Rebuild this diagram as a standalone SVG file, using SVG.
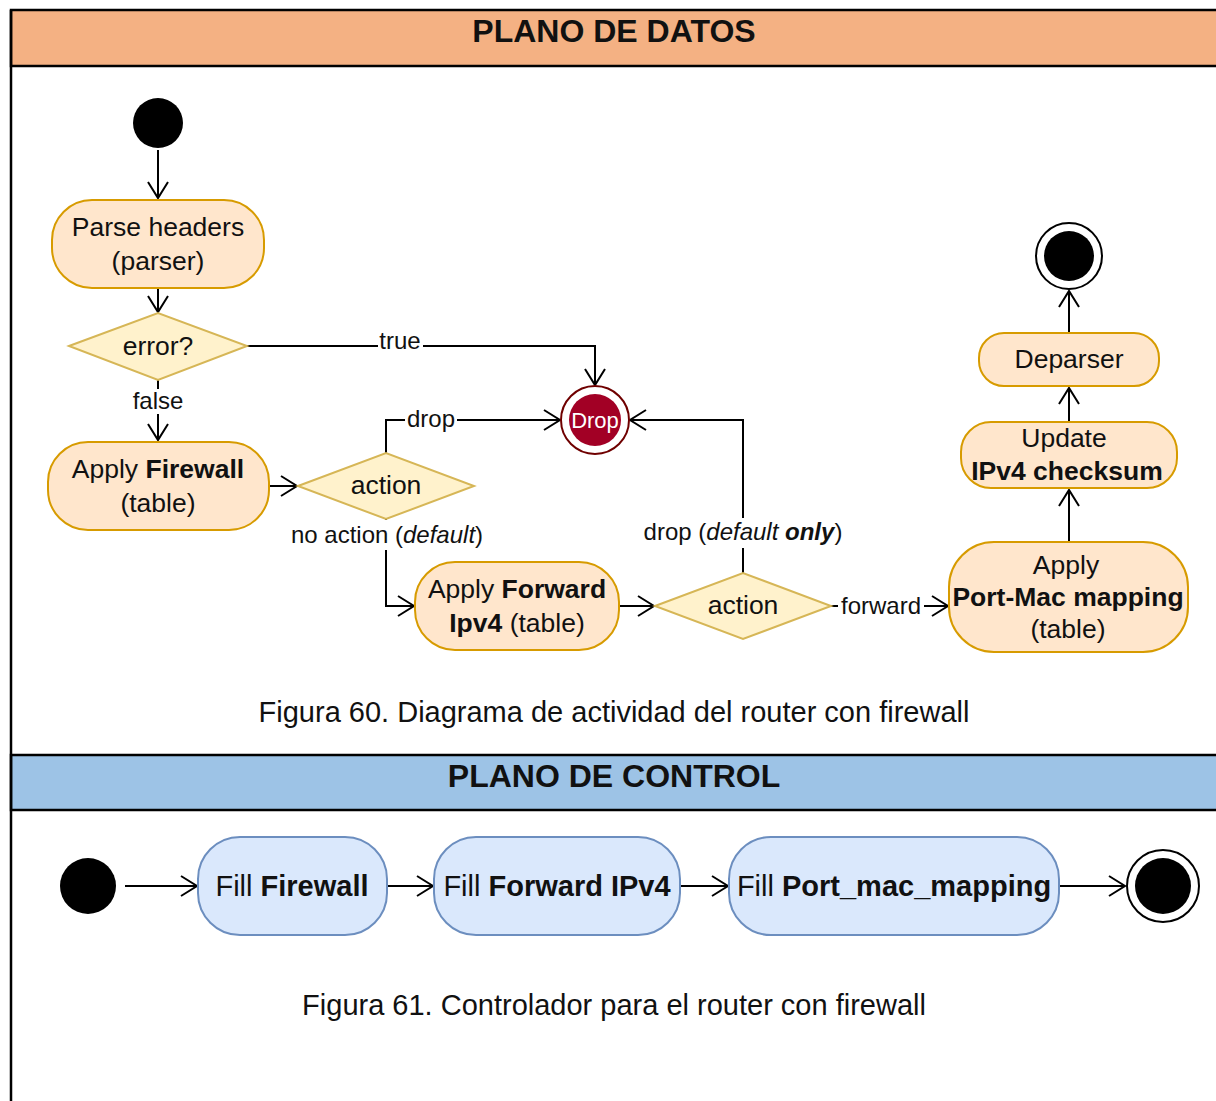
<svg xmlns="http://www.w3.org/2000/svg" width="1216" height="1101" viewBox="0 0 1216 1101">
  <style>
    text { font-family: "Liberation Sans", Arial, sans-serif; fill: #111; }
    .hdr { font-size: 32px; font-weight: bold; text-anchor: middle; }
    .act { fill: #FFE6CC; stroke: #D79B00; stroke-width: 2; }
    .dec { fill: #FFF2CC; stroke: #D6B656; stroke-width: 2; }
    .ctl { fill: #DAE8FC; stroke: #6C8EBF; stroke-width: 2; }
    .t26 { font-size: 26.5px; text-anchor: middle; }
    .t29 { font-size: 29px; text-anchor: middle; }
    .lbl { font-size: 24px; text-anchor: middle; }
    .cap { font-size: 29px; text-anchor: middle; }
    .b { font-weight: bold; }
    .i { font-style: italic; }
    .edge { fill: none; stroke: #000; stroke-width: 2; }
    .lblbg { fill: #fff; }
  </style>
  <defs>
    <marker id="open" markerUnits="userSpaceOnUse" markerWidth="20" markerHeight="24" refX="17" refY="11" orient="auto">
      <path d="M1,1 L17,11 L1,21" fill="none" stroke="#000" stroke-width="2"/>
    </marker>
  </defs>

  <rect width="1216" height="1101" fill="#fff"/>

  <!-- Frame and lane headers -->
  <g id="lanes">
    <rect x="11" y="10" width="1210" height="56" fill="#F4B183" stroke="#000" stroke-width="2.5"/>
    <text class="hdr" x="614" y="42">PLANO DE DATOS</text>
    <rect x="11" y="755" width="1210" height="55" fill="#9DC3E6" stroke="#000" stroke-width="2.5"/>
    <text class="hdr" x="614" y="787">PLANO DE CONTROL</text>
    <line x1="11" y1="10" x2="11" y2="1101" stroke="#000" stroke-width="2.5"/>
  </g>

  <!-- Connectors -->
  <g id="connectors">
    <path class="edge" d="M158,150 V198" marker-end="url(#open)"/>
    <path class="edge" d="M158,288 V312" marker-end="url(#open)"/>
    <path class="edge" d="M247,346 H595 V385" marker-end="url(#open)"/>
    <path class="edge" d="M158,380 V440" marker-end="url(#open)"/>
    <path class="edge" d="M269,486 H297" marker-end="url(#open)"/>
    <path class="edge" d="M386,453 V420 H560" marker-end="url(#open)"/>
    <path class="edge" d="M386,519 V606 H414" marker-end="url(#open)"/>
    <path class="edge" d="M619,606 H654" marker-end="url(#open)"/>
    <path class="edge" d="M743,573 V420 H630" marker-end="url(#open)"/>
    <path class="edge" d="M831,606 H948" marker-end="url(#open)"/>
    <path class="edge" d="M1069,542 V490" marker-end="url(#open)"/>
    <path class="edge" d="M1069,422 V388" marker-end="url(#open)"/>
    <path class="edge" d="M1069,333 V291" marker-end="url(#open)"/>

    <path class="edge" d="M125,886 H197" marker-end="url(#open)"/>
    <path class="edge" d="M387,886 H433" marker-end="url(#open)"/>
    <path class="edge" d="M680,886 H728" marker-end="url(#open)"/>
    <path class="edge" d="M1059,886 H1125" marker-end="url(#open)"/>

    <!-- edge labels -->
    <rect class="lblbg" x="378" y="332" width="45" height="26"/>
    <text class="lbl" x="400" y="349">true</text>
    <rect class="lblbg" x="131" y="389" width="56" height="25"/>
    <text class="lbl" x="158" y="409">false</text>
    <rect class="lblbg" x="405" y="406" width="52" height="28"/>
    <text class="lbl" x="431" y="427">drop</text>
    <rect class="lblbg" x="286" y="520" width="202" height="30"/>
    <text class="lbl" x="387" y="543">no action (<tspan class="i">default</tspan>)</text>
    <rect class="lblbg" x="638" y="518" width="210" height="30"/>
    <text class="lbl" x="743" y="540">drop (<tspan class="i">default <tspan class="b">only</tspan></tspan>)</text>
    <rect class="lblbg" x="838" y="593" width="86" height="26"/>
    <text class="lbl" x="881" y="614">forward</text>
  </g>

  <!-- Data plane nodes -->
  <g id="start">
    <circle cx="158" cy="123" r="25" fill="#000"/>
  </g>
  <g id="parse">
    <rect class="act" x="52" y="200" width="212" height="88" rx="40"/>
    <text class="t26" x="158" y="236">Parse headers</text>
    <text class="t26" x="158" y="270">(parser)</text>
  </g>
  <g id="error">
    <polygon class="dec" points="69,346 158,313 247,346 158,380"/>
    <text class="t26" x="158" y="355">error?</text>
  </g>
  <g id="firewall">
    <rect class="act" x="48" y="442" width="221" height="88" rx="40"/>
    <text class="t26" x="158" y="478">Apply <tspan class="b">Firewall</tspan></text>
    <text class="t26" x="158" y="512">(table)</text>
  </g>
  <g id="action1">
    <polygon class="dec" points="298,486 386,453 474,486 386,519"/>
    <text class="t26" x="386" y="494">action</text>
  </g>
  <g id="drop">
    <circle cx="595" cy="420" r="34" fill="#fff" stroke="#6F0000" stroke-width="2"/>
    <circle cx="595" cy="420" r="26" fill="#A20025"/>
    <text x="595" y="428" font-size="22" text-anchor="middle" style="fill:#fff">Drop</text>
  </g>
  <g id="forward">
    <rect class="act" x="415" y="562" width="204" height="88" rx="40"/>
    <text class="t26" x="517" y="598">Apply <tspan class="b">Forward</tspan></text>
    <text class="t26" x="517" y="632"><tspan class="b">Ipv4</tspan> (table)</text>
  </g>
  <g id="action2">
    <polygon class="dec" points="655,606 743,573 831,606 743,639"/>
    <text class="t26" x="743" y="614">action</text>
  </g>
  <g id="portmac">
    <rect class="act" x="949" y="542" width="239" height="110" rx="45"/>
    <text class="t26" x="1066" y="574">Apply</text>
    <text class="t26 b" x="1068" y="606">Port-Mac mapping</text>
    <text class="t26" x="1068" y="638">(table)</text>
  </g>
  <g id="checksum">
    <rect class="act" x="961" y="422" width="216" height="66" rx="30"/>
    <text class="t26" x="1064" y="447">Update</text>
    <text class="t26 b" x="1067" y="480">IPv4 checksum</text>
  </g>
  <g id="deparser">
    <rect class="act" x="979" y="333" width="180" height="53" rx="25"/>
    <text class="t26" x="1069" y="368">Deparser</text>
  </g>
  <g id="end">
    <circle cx="1069" cy="256" r="33" fill="#fff" stroke="#000" stroke-width="2"/>
    <circle cx="1069" cy="256" r="25" fill="#000"/>
  </g>

  <text class="cap" x="614" y="722">Figura 60. Diagrama de actividad del router con firewall</text>

  <!-- Control plane nodes -->
  <g id="c-start">
    <circle cx="88" cy="886" r="28" fill="#000"/>
  </g>
  <g id="fill-firewall">
    <rect class="ctl" x="198" y="837" width="189" height="98" rx="42"/>
    <text class="t29" x="292" y="896">Fill <tspan class="b">Firewall</tspan></text>
  </g>
  <g id="fill-forward">
    <rect class="ctl" x="434" y="837" width="246" height="98" rx="42"/>
    <text class="t29" x="557" y="896">Fill <tspan class="b">Forward IPv4</tspan></text>
  </g>
  <g id="fill-portmac">
    <rect class="ctl" x="729" y="837" width="330" height="98" rx="42"/>
    <text class="t29" x="894" y="896">Fill <tspan class="b">Port_mac_mapping</tspan></text>
  </g>
  <g id="c-end">
    <circle cx="1163" cy="886" r="36" fill="#fff" stroke="#000" stroke-width="2"/>
    <circle cx="1163" cy="886" r="28" fill="#000"/>
  </g>

  <text class="cap" x="614" y="1015">Figura 61. Controlador para el router con firewall</text>
</svg>
